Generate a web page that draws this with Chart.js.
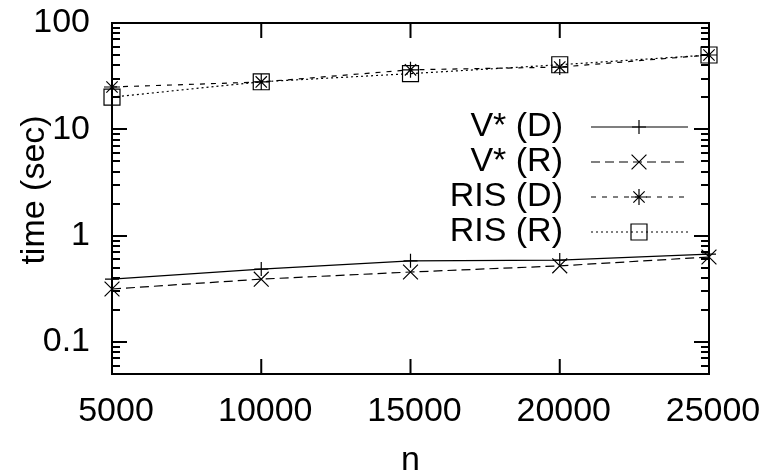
<!DOCTYPE html>
<html>
<head>
<meta charset="utf-8">
<script src="https://cdn.jsdelivr.net/npm/chart.js@4/dist/chart.umd.min.js"></script>
<style>
  html, body { margin: 0; padding: 0; background: #fff; }
  #c { display: block; }
</style>
</head>
<body>
<canvas id="c" width="768" height="476"></canvas>
<script>
// ---- data ----
const nValues = [5000, 10000, 15000, 20000, 25000];
const vStarD = [0.39, 0.485, 0.58, 0.59, 0.67];
const vStarR = [0.315, 0.39, 0.455, 0.52, 0.63];
const risD = [25, 27.9, 36.3, 38.5, 50];
const risR = [20.1, 28, 33.4, 40.5, 50];
const seriesLabels = ['V* (D)', 'V* (R)', 'RIS (D)', 'RIS (R)'];
const xTickValues = [5000, 10000, 15000, 20000, 25000];
const yTickValues = [0.1, 1, 10, 100];
const yTickLabels = ['0.1', '1', '10', '100'];
const xTitle = 'n';
const yTitle = 'time (sec)';

const FONT = '"Liberation Sans", Arial, Helvetica, sans-serif';
const FSIZE = 34;
const toPts = arr => arr.map((v, i) => ({ x: nValues[i], y: v }));

function ds(label, values, dash, style, radius) {
  return {
    label, data: toPts(values),
    borderColor: '#000', borderWidth: 1.2, borderDash: dash,
    pointStyle: style, pointRadius: radius, pointHoverRadius: radius,
    pointBorderColor: '#000', pointBackgroundColor: 'rgba(0,0,0,0)',
    pointBorderWidth: 1.2, fill: false, tension: 0, clip: false
  };
}

const framePlugin = {
  id: 'gpFrame',
  afterDraw(chart) {
    const { ctx, chartArea: a, scales } = chart;
    const xs = scales.x, ys = scales.y;
    ctx.save();
    ctx.strokeStyle = '#000';
    ctx.lineWidth = 2;
    ctx.strokeRect(a.left, a.top, a.right - a.left, a.bottom - a.top);
    const major = 15, minor = 8;
    ctx.beginPath();
    xTickValues.forEach(v => {
      const px = xs.getPixelForValue(v);
      ctx.moveTo(px, a.bottom); ctx.lineTo(px, a.bottom - major);
      ctx.moveTo(px, a.top); ctx.lineTo(px, a.top + major);
    });
    // y ticks: majors at decades, minors at 2..9 multiples
    const lo = Math.floor(Math.log10(ys.min)), hi = Math.ceil(Math.log10(ys.max));
    for (let e = lo; e <= hi; e++) {
      for (let m = 1; m <= 9; m++) {
        const v = m * Math.pow(10, e);
        if (v < ys.min * 0.999 || v > ys.max * 1.001) continue;
        const py = Math.round(ys.getPixelForValue(v));
        const len = m === 1 ? major : minor;
        ctx.moveTo(a.left, py); ctx.lineTo(a.left + len, py);
        ctx.moveTo(a.right, py); ctx.lineTo(a.right - len, py);
      }
    }
    ctx.stroke();

    // axis titles
    ctx.fillStyle = '#000';
    ctx.font = FSIZE + 'px ' + FONT;
    ctx.textAlign = 'center';
    ctx.textBaseline = 'alphabetic';
    ctx.fillText(xTitle, (a.left + a.right) / 2, 470);
    ctx.save();
    ctx.translate(44, 190);
    ctx.rotate(-Math.PI / 2);
    ctx.fillText(yTitle, 0, 0);
    ctx.restore();

    // gnuplot-style key
    ctx.textAlign = 'right';
    ctx.textBaseline = 'middle';
    chart.data.datasets.forEach((d, i) => {
      const y = a.top + 104 + i * 35;
      ctx.fillStyle = '#000';
      ctx.fillText(d.label, a.right - 146, y);
      ctx.save();
      ctx.lineWidth = d.borderWidth;
      ctx.setLineDash(d.borderDash || []);
      ctx.beginPath();
      ctx.moveTo(a.right - 118, y);
      ctx.lineTo(a.right - 21, y);
      ctx.stroke();
      ctx.setLineDash([]);
      ctx.fillStyle = 'rgba(0,0,0,0)';
      ctx.strokeStyle = '#000';
      Chart.helpers.drawPoint(ctx, {
        pointStyle: d.pointStyle, radius: d.pointRadius,
        borderWidth: d.pointBorderWidth, rotation: 0
      }, a.right - 70, y);
      ctx.restore();
    });
    ctx.restore();
  }
};

new Chart(document.getElementById('c'), {
  type: 'line',
  data: {
    datasets: [
      ds(seriesLabels[0], vStarD, [], 'cross', 7),
      ds(seriesLabels[1], vStarR, [9, 5], 'crossRot', 10.5),
      ds(seriesLabels[2], risD, [5, 6], 'star', 8),
      ds(seriesLabels[3], risR, [2, 3], 'rect', 11.3)
    ]
  },
  options: {
    responsive: false,
    animation: false,
    devicePixelRatio: 1,
    layout: { padding: { left: 0, top: 23, right: 59, bottom: 0 } },
    plugins: { legend: { display: false }, tooltip: { enabled: false } },
    scales: {
      x: {
        type: 'linear', min: 5000, max: 25000,
        grid: { display: false, drawTicks: false }, border: { display: false },
        afterBuildTicks: s => { s.ticks = xTickValues.map(v => ({ value: v })); },
        afterFit: s => { s.height = 102; s.paddingLeft = 0; s.paddingRight = 0; },
        ticks: {
          color: '#000', font: { family: FONT, size: FSIZE }, padding: 17,
          maxRotation: 0, autoSkip: false, labelOffset: 4,
          callback: v => String(v)
        }
      },
      y: {
        type: 'logarithmic', min: 0.05, max: 100,
        grid: { display: false, drawTicks: false }, border: { display: false },
        afterBuildTicks: s => { s.ticks = yTickValues.map(v => ({ value: v })); },
        afterFit: s => { s.width = 112; s.paddingTop = 0; s.paddingBottom = 0; },
        ticks: {
          color: '#000', font: { family: FONT, size: FSIZE }, padding: 22,
          autoSkip: false,
          callback: v => { const i = yTickValues.indexOf(v); return i >= 0 ? yTickLabels[i] : ''; }
        }
      }
    }
  },
  plugins: [framePlugin]
});
</script>
</body>
</html>
